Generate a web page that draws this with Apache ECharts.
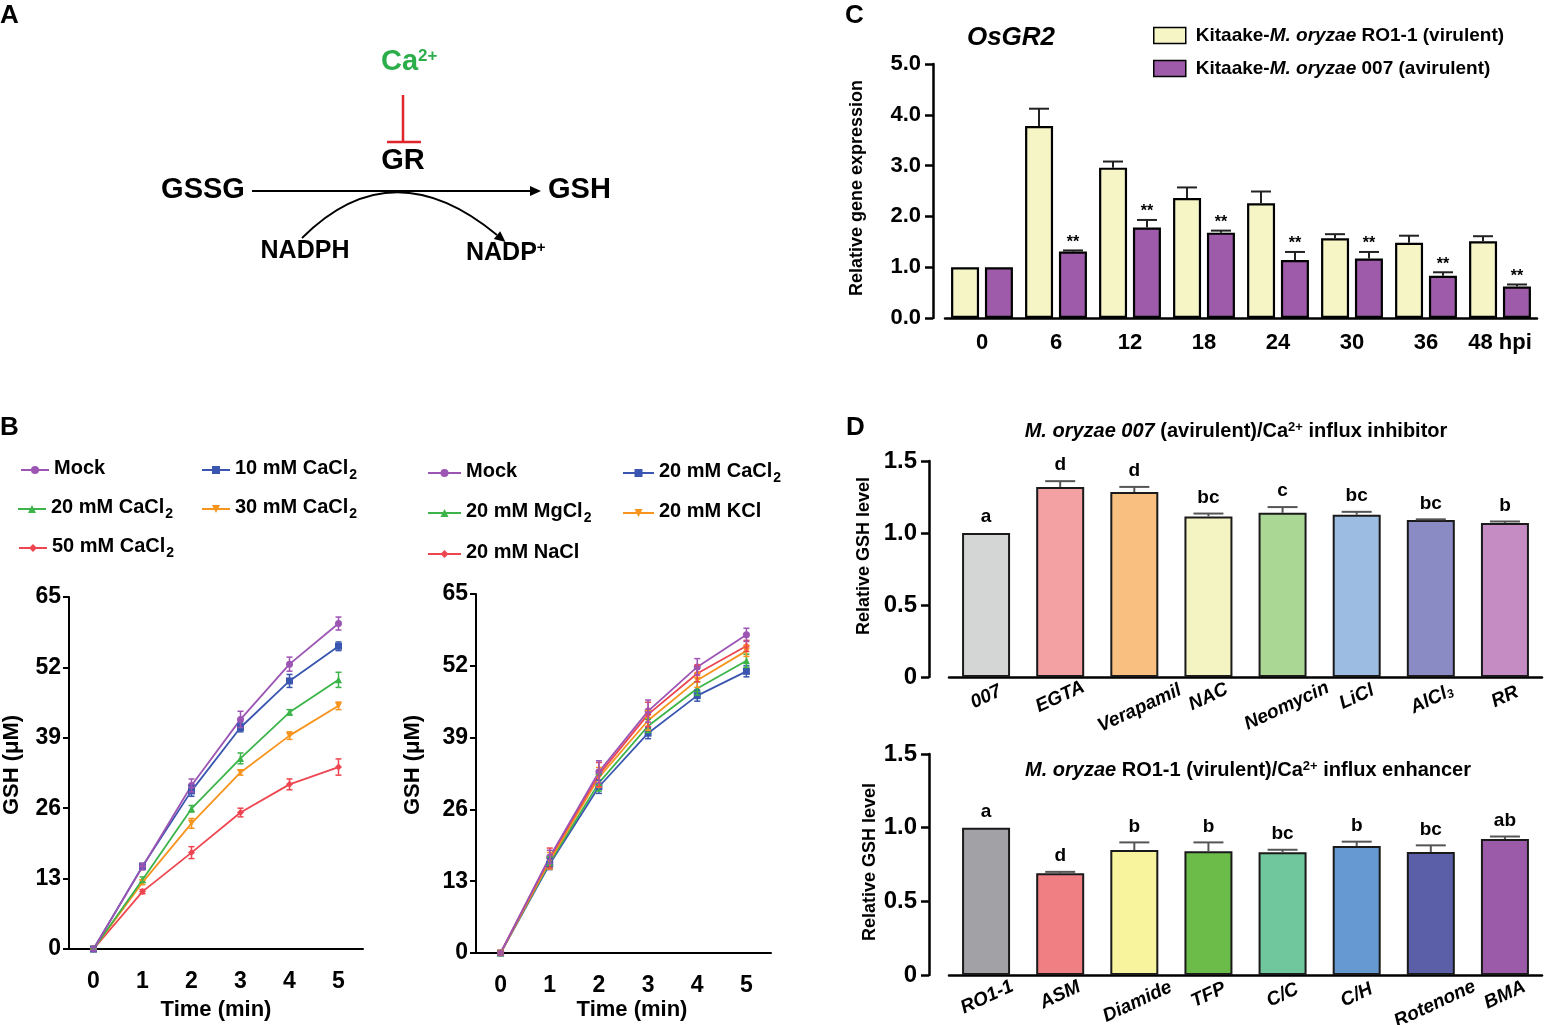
<!DOCTYPE html>
<html>
<head>
<meta charset="utf-8">
<script src="https://cdn.jsdelivr.net/npm/echarts@6/dist/echarts.min.js"></script>
<style>
html, body { margin: 0; background: #fff; }
#fig { width: 1557px; height: 1025px; }
</style>
</head>
<body>
<div id="fig"></div>
<script>
var FONT = '"Liberation Sans", Arial, sans-serif';

// ---- panel B : GSH over time ----
var bTime = ['0', '1', '2', '3', '4', '5'];
// left: CaCl2 concentrations
var caMock = [0, 15.2, 30.2, 42.4, 52.6, 60.1];
var caMockErr = [0.3, 0.6, 1.2, 1.5, 1.3, 1.2];
var ca10 = [0, 15.3, 29.2, 40.9, 49.5, 55.9];
var ca10Err = [0.3, 0.5, 1.0, 0.8, 1.2, 0.8];
var ca20 = [0, 12.8, 25.9, 35.2, 43.7, 49.7];
var ca20Err = [0.2, 0.5, 0.6, 1.0, 0.5, 1.4];
var ca30 = [0, 12.3, 23.2, 32.6, 39.4, 44.9];
var ca30Err = [0.2, 0.4, 0.9, 0.5, 0.7, 0.7];
var ca50 = [0, 10.6, 17.8, 25.2, 30.4, 33.6];
var ca50Err = [0.2, 0.4, 1.1, 0.8, 1.0, 1.5];
// right: different salts, 20 mM
var ionMock = [0, 17.4, 32.8, 43.8, 51.8, 57.6];
var ionMockErr = [0.3, 1.2, 2.0, 2.0, 1.5, 1.2];
var ionCa = [0, 16.1, 30.1, 39.8, 46.6, 51.0];
var ionCaErr = [0.3, 1.0, 1.2, 1.0, 1.0, 1.0];
var ionMg = [0, 16.4, 30.8, 41.1, 47.9, 52.9];
var ionMgErr = [0.3, 1.0, 1.5, 1.2, 1.2, 1.2];
var ionK = [0, 16.7, 31.8, 42.1, 49.4, 54.7];
var ionKErr = [0.3, 1.5, 1.8, 1.8, 1.3, 1.0];
var ionNa = [0, 17.2, 32.3, 43.2, 50.6, 55.6];
var ionNaErr = [0.3, 1.8, 2.2, 2.2, 1.5, 1.0];

// ---- panel C : OsGR2 expression ----
var cTimes = ['0', '6', '12', '18', '24', '30', '36', '48'];
var cVirulent = [1.0, 3.78, 2.96, 2.36, 2.26, 1.57, 1.48, 1.51];
var cVirulentTop = [1.0, 4.12, 3.08, 2.57, 2.49, 1.65, 1.62, 1.61];
var cAvirulent = [1.0, 1.31, 1.78, 1.68, 1.14, 1.17, 0.83, 0.62];
var cAvirulentTop = [1.0, 1.33, 1.93, 1.72, 1.30, 1.30, 0.90, 0.66];
var cStars = ['', '**', '**', '**', '**', '**', '**', '**'];

// ---- panel D : relative GSH ----
var dTopCats = ['007', 'EGTA', 'Verapamil', 'NAC', 'Neomycin', 'LiCl', 'AlCl3', 'RR'];
var dTopVals = [1.0, 1.32, 1.285, 1.115, 1.14, 1.127, 1.09, 1.07];
var dTopErr = [1.0, 1.36, 1.32, 1.135, 1.18, 1.147, 1.095, 1.08];
var dTopLetters = ['a', 'd', 'd', 'bc', 'c', 'bc', 'bc', 'b'];
var dBotCats = ['RO1-1', 'ASM', 'Diamide', 'TFP', 'C/C', 'C/H', 'Rotenone', 'BMA'];
var dBotVals = [1.0, 0.69, 0.848, 0.84, 0.833, 0.876, 0.835, 0.923];
var dBotErr = [1.0, 0.70, 0.90, 0.90, 0.85, 0.905, 0.88, 0.94];
var dBotLetters = ['a', 'd', 'b', 'b', 'bc', 'b', 'bc', 'ab'];

var dTopColors = ['#D4D5D5', '#F3A1A3', '#F8BF80', '#F4F3C2', '#ABD795', '#9CBCE2', '#8A8BC5', '#C48CC3'];
var dBotColors = ['#A2A1A5', '#F07F84', '#F8F49D', '#6BBC48', '#70C79E', '#6699D2', '#5A5FA8', '#9B5BA8'];

var PURPLE = '#9D55B4', BLUE = '#3A56B0', GREEN = '#3CB44A', ORANGE = '#F7941E', RED = '#EE4650';

function lineSeries(name, data, color, symbol, rot, g) {
  return {
    type: 'line', name: name, xAxisIndex: g, yAxisIndex: g, data: data,
    symbol: symbol, symbolRotate: rot, symbolSize: 7, color: color,
    lineStyle: { width: 1.8, color: color }, itemStyle: { color: color }, z: 3
  };
}

// symmetric error bars for the time courses
function errSeries(vals, errs, color, g) {
  return {
    type: 'custom', xAxisIndex: g, yAxisIndex: g, silent: true, z: 4,
    data: vals.map(function (v, i) { return [i, v - errs[i], v + errs[i]]; }),
    renderItem: function (p, api) {
      var lo = api.coord([api.value(0), api.value(1)]);
      var hi = api.coord([api.value(0), api.value(2)]);
      var x = lo[0], s = { stroke: color, lineWidth: 1.5 };
      return { type: 'group', children: [
        { type: 'line', shape: { x1: x, y1: lo[1], x2: x, y2: hi[1] }, style: s },
        { type: 'line', shape: { x1: x - 3, y1: lo[1], x2: x + 3, y2: lo[1] }, style: s },
        { type: 'line', shape: { x1: x - 3, y1: hi[1], x2: x + 3, y2: hi[1] }, style: s }
      ] };
    }
  };
}

// upper-only error bars on bars, with a text mark above
function capSeries(vals, tops, g, offset, capW, color, labels, gap, font) {
  return {
    type: 'custom', xAxisIndex: g, yAxisIndex: g, silent: true, z: 5,
    data: vals.map(function (v, i) { return [i, v, tops[i]]; }),
    renderItem: function (p, api) {
      var i = api.value(0);
      var lo = api.coord([i, api.value(1)]);
      var hi = api.coord([i, api.value(2)]);
      var x = lo[0] + offset, s = { stroke: color, lineWidth: 2 };
      var kids = [];
      if (hi[1] < lo[1] - 0.5) {
        kids.push({ type: 'line', shape: { x1: x, y1: lo[1], x2: x, y2: hi[1] }, style: s });
        kids.push({ type: 'line', shape: { x1: x - capW / 2, y1: hi[1], x2: x + capW / 2, y2: hi[1] }, style: s });
      }
      if (labels[i]) {
        kids.push({ type: 'text', x: x, y: hi[1] - gap, style: {
          text: labels[i], font: font, fill: '#000',
          align: 'center', verticalAlign: 'middle', textAlign: 'center', textVerticalAlign: 'middle'
        } });
      }
      return { type: 'group', children: kids };
    }
  };
}

function subLabel(name) {
  var n = name.trim();
  var m = n.match(/^(.*Cl)2$/);
  return m ? '{t|' + m[1] + '}{s|2}' : '{t|' + n + '}';
}
var legendRich = {
  t: { fontSize: 20, fontWeight: 'bold', fontFamily: FONT, color: '#000', padding: [0, 0, 4, 0] },
  s: { fontSize: 14, fontWeight: 'bold', fontFamily: FONT, color: '#000', verticalAlign: 'bottom', padding: [0, 0, 0, 1] }
};
function lineLegend(name, left, top, w) {
  return {
    data: [name], left: left, top: top, padding: 0, itemWidth: w, itemHeight: 10,
    selectedMode: false, formatter: subLabel, textStyle: { rich: legendRich }
  };
}

function txt(x, y, text, size, opt) {
  opt = opt || {};
  return {
    type: 'text', x: x, y: y, rotation: opt.rot || 0, silent: true,
    style: {
      text: text, font: (opt.italic ? 'italic ' : '') + 'bold ' + size + 'px ' + FONT,
      fill: opt.color || '#000', rich: opt.rich,
      align: opt.align || 'center', verticalAlign: 'middle',
      textAlign: opt.align || 'center', textVerticalAlign: 'middle'
    }
  };
}

var axBlack = { color: '#000', width: 2 };
function bValueAxis(g) {
  return {
    gridIndex: g, type: 'value', min: 0, max: 65, interval: 13,
    axisLine: { show: true, lineStyle: axBlack },
    axisTick: { show: true, length: 6, lineStyle: axBlack },
    splitLine: { show: false },
    axisLabel: { color: '#000', fontSize: 23, fontWeight: 'bold', fontFamily: FONT, margin: 8 }
  };
}
function bCatAxis(g) {
  return {
    gridIndex: g, type: 'category', data: bTime, boundaryGap: true,
    axisLine: { lineStyle: axBlack },
    axisTick: { alignWithLabel: true, length: 7, lineStyle: axBlack },
    axisLabel: { color: '#000', fontSize: 23, fontWeight: 'bold', fontFamily: FONT, margin: 21 }
  };
}

var ax25 = { color: '#000', width: 2.5 };
var dLabelRich = {
  i: { fontSize: 19, fontWeight: 'bold', fontStyle: 'italic', fontFamily: FONT, color: '#000' },
  s: { fontSize: 12, fontWeight: 'bold', fontStyle: 'italic', fontFamily: FONT, color: '#000', verticalAlign: 'bottom' }
};
function dCatAxis(g, cats) {
  return {
    gridIndex: g, type: 'category',
    // longer rotated labels sit a little lower, as in the original
    data: cats.map(function (c) {
      return { value: c, textStyle: {
        align: 'center', verticalAlign: 'middle',
        padding: [Math.max(0, c.length - 4) * 5, 0, 0, 0]
      } };
    }),
    axisLine: { lineStyle: ax25 },
    axisTick: { alignWithLabel: true, length: 8, lineStyle: ax25 },
    axisLabel: {
      rotate: 25, align: 'center', verticalAlign: 'middle', margin: 20, interval: 0,
      formatter: function (v) { return v === 'AlCl3' ? '{i|AlCl}{s|3}' : '{i|' + v + '}'; },
      rich: dLabelRich
    }
  };
}
function dValueAxis(g) {
  return {
    gridIndex: g, type: 'value', min: 0, max: 1.5, interval: 0.5, offset: 20,
    axisLine: { show: true, lineStyle: ax25 },
    axisTick: { show: true, length: 8, lineStyle: ax25 },
    splitLine: { show: false },
    axisLabel: {
      color: '#000', fontSize: 24, fontWeight: 'bold', fontFamily: FONT, margin: 12,
      formatter: function (v) { return v === 0 ? '0' : v.toFixed(1); }
    }
  };
}

var cLegendRich = {
  n: { fontSize: 19, fontWeight: 'bold', fontFamily: FONT, color: '#000' },
  i: { fontSize: 19, fontWeight: 'bold', fontStyle: 'italic', fontFamily: FONT, color: '#000' }
};
var cLegendText = {
  'RO1-1': '{n|Kitaake-}{i|M. oryzae}{n| RO1-1 (virulent)}',
  '007': '{n|Kitaake-}{i|M. oryzae}{n| 007 (avirulent)}'
};

var titleRich = {
  n: { fontSize: 20, fontWeight: 'bold', fontFamily: FONT, fill: '#000' },
  i: { fontSize: 20, fontWeight: 'bold', fontStyle: 'italic', fontFamily: FONT, fill: '#000' },
  sup: { fontSize: 13, fontWeight: 'bold', fontFamily: FONT, fill: '#000', verticalAlign: 'top' }
};
var bigRich = {
  a: { fontSize: 29, fontWeight: 'bold', fontFamily: FONT, fill: '#2BAE4A' },
  b: { fontSize: 17, fontWeight: 'bold', fontFamily: FONT, fill: '#2BAE4A', verticalAlign: 'top' },
  c: { fontSize: 25, fontWeight: 'bold', fontFamily: FONT, fill: '#000' },
  d: { fontSize: 15, fontWeight: 'bold', fontFamily: FONT, fill: '#000', verticalAlign: 'top' }
};

var black = { stroke: '#000', lineWidth: 1.8, fill: null };
var redInh = { stroke: '#E0262B', lineWidth: 2.5 };

function grid(l, t, w, h) {
  return { left: l, top: t, width: w, height: h, outerBoundsMode: 'none' };
}

var option = {
  animation: false,
  backgroundColor: '#fff',
  grid: [
    grid(69, 597, 294, 352),
    grid(476, 594, 295, 359),
    grid(945, 64, 592, 254),
    grid(949, 461, 593, 216),
    grid(949, 754, 593, 221)
  ],
  xAxis: [
    bCatAxis(0),
    bCatAxis(1),
    {
      gridIndex: 2, type: 'category', data: cTimes,
      axisLine: { lineStyle: ax25 },
      axisTick: { alignWithLabel: true, length: 8, lineStyle: ax25 },
      axisLabel: {
        color: '#000', fontSize: 22, fontWeight: 'bold', fontFamily: FONT, margin: 14, interval: 0,
        formatter: function (v, i) { return i === cTimes.length - 1 ? v + ' hpi' : v; }
      }
    },
    dCatAxis(3, dTopCats),
    dCatAxis(4, dBotCats)
  ],
  yAxis: [
    bValueAxis(0),
    bValueAxis(1),
    {
      gridIndex: 2, type: 'value', min: 0, max: 5, interval: 1, offset: 12,
      axisLine: { show: true, lineStyle: ax25 },
      axisTick: { show: true, length: 8, lineStyle: ax25 },
      splitLine: { show: false },
      axisLabel: {
        color: '#000', fontSize: 22, fontWeight: 'bold', fontFamily: FONT, margin: 12,
        formatter: function (v) { return v.toFixed(1); }
      }
    },
    dValueAxis(3),
    dValueAxis(4)
  ],
  legend: [
    lineLegend('Mock', 20, 458, 28),
    lineLegend('10 mM CaCl2', 201, 458, 28),
    lineLegend('20 mM CaCl2', 17, 497, 28),
    lineLegend('30 mM CaCl2', 201, 497, 28),
    lineLegend('50 mM CaCl2', 18, 536, 28),
    lineLegend('Mock ', 427, 461, 33),
    lineLegend('20 mM CaCl2 ', 622, 461, 31),
    lineLegend('20 mM MgCl2', 427, 501, 33),
    lineLegend('20 mM KCl', 622, 501, 31),
    lineLegend('20 mM NaCl', 427, 542, 33),
    {
      data: ['RO1-1', '007'], left: 1153, top: 26, orient: 'vertical', padding: 0,
      itemGap: 14, itemWidth: 32, itemHeight: 16, icon: 'rect', selectedMode: false,
      itemStyle: { borderColor: '#000', borderWidth: 1.5 },
      formatter: function (n) { return cLegendText[n]; },
      textStyle: { rich: cLegendRich, padding: [0, 0, 0, 5] }
    }
  ],
  series: [
    lineSeries('50 mM CaCl2', ca50, RED, 'diamond', 0, 0),
    lineSeries('30 mM CaCl2', ca30, ORANGE, 'triangle', 180, 0),
    lineSeries('20 mM CaCl2', ca20, GREEN, 'triangle', 0, 0),
    lineSeries('10 mM CaCl2', ca10, BLUE, 'rect', 0, 0),
    lineSeries('Mock', caMock, PURPLE, 'circle', 0, 0),
    errSeries(ca50, ca50Err, RED, 0),
    errSeries(ca30, ca30Err, ORANGE, 0),
    errSeries(ca20, ca20Err, GREEN, 0),
    errSeries(ca10, ca10Err, BLUE, 0),
    errSeries(caMock, caMockErr, PURPLE, 0),

    lineSeries('20 mM CaCl2 ', ionCa, BLUE, 'rect', 0, 1),
    lineSeries('20 mM MgCl2', ionMg, GREEN, 'triangle', 0, 1),
    lineSeries('20 mM KCl', ionK, ORANGE, 'triangle', 180, 1),
    lineSeries('20 mM NaCl', ionNa, RED, 'diamond', 0, 1),
    lineSeries('Mock ', ionMock, PURPLE, 'circle', 0, 1),
    errSeries(ionCa, ionCaErr, BLUE, 1),
    errSeries(ionMg, ionMgErr, GREEN, 1),
    errSeries(ionK, ionKErr, ORANGE, 1),
    errSeries(ionNa, ionNaErr, RED, 1),
    errSeries(ionMock, ionMockErr, PURPLE, 1),

    {
      type: 'bar', name: 'RO1-1', xAxisIndex: 2, yAxisIndex: 2, data: cVirulent,
      barWidth: 28, barGap: '21%',
      itemStyle: { color: '#F6F5C6', borderColor: '#000', borderWidth: 2.2 }
    },
    {
      type: 'bar', name: '007', xAxisIndex: 2, yAxisIndex: 2, data: cAvirulent,
      barWidth: 28, barGap: '21%',
      itemStyle: { color: '#9E5BAA', borderColor: '#000', borderWidth: 2.2 }
    },
    capSeries(cVirulent, cVirulentTop, 2, -17, 20, '#222', [], 0, ''),
    capSeries(cAvirulent, cAvirulentTop, 2, 17, 20, '#222', cStars, 8, 'bold 16px ' + FONT),

    {
      type: 'bar', xAxisIndex: 3, yAxisIndex: 3, data: dTopVals, barWidth: 48,
      itemStyle: { color: function (p) { return dTopColors[p.dataIndex]; }, borderColor: '#1a1a1a', borderWidth: 2 }
    },
    capSeries(dTopVals, dTopErr, 3, 0, 30, '#555', dTopLetters, 16, 'bold 19px ' + FONT),
    {
      type: 'bar', xAxisIndex: 4, yAxisIndex: 4, data: dBotVals, barWidth: 48,
      itemStyle: { color: function (p) { return dBotColors[p.dataIndex]; }, borderColor: '#1a1a1a', borderWidth: 2 }
    },
    capSeries(dBotVals, dBotErr, 4, 0, 30, '#555', dBotLetters, 16, 'bold 19px ' + FONT)
  ],
  graphic: [
    // panel letters
    txt(0, 16, 'A', 26, { align: 'left' }),
    txt(0, 428, 'B', 26, { align: 'left' }),
    txt(845, 16, 'C', 26, { align: 'left' }),
    txt(846, 428, 'D', 26, { align: 'left' }),

    // panel A scheme
    txt(381, 62, '{a|Ca}{b|2+}', 29, { align: 'left', rich: bigRich }),
    { type: 'line', silent: true, shape: { x1: 403, y1: 95, x2: 403, y2: 142 }, style: redInh },
    { type: 'line', silent: true, shape: { x1: 387, y1: 142, x2: 421, y2: 142 }, style: redInh },
    txt(403, 161, 'GR', 29),
    txt(203, 190, 'GSSG', 29),
    txt(548, 190, 'GSH', 29, { align: 'left' }),
    { type: 'line', silent: true, shape: { x1: 252, y1: 191, x2: 532, y2: 191 }, style: black },
    { type: 'polygon', silent: true, shape: { points: [[541, 191], [530, 186], [530, 196]] }, style: { fill: '#000' } },
    { type: 'bezierCurve', silent: true, shape: { x1: 302, y1: 238, cpx1: 392, cpy1: 148, x2: 497, y2: 235 }, style: black },
    { type: 'polygon', silent: true, shape: { points: [[505.5, 242], [493.8, 238.9], [500.2, 231.2]] }, style: { fill: '#000' } },
    txt(305, 251, 'NADPH', 25),
    txt(466, 253, '{c|NADP}{d|+}', 25, { align: 'left', rich: bigRich }),

    // panel B axis names
    txt(12, 765, 'GSH (μM)', 22, { rot: Math.PI / 2 }),
    txt(413, 765, 'GSH (μM)', 22, { rot: Math.PI / 2 }),
    txt(216, 1010, 'Time (min)', 22),
    txt(632, 1010, 'Time (min)', 22),

    // panel C
    txt(1011, 38, 'OsGR2', 26, { italic: true }),
    txt(857, 188, 'Relative gene expression', 18, { rot: Math.PI / 2 }),

    // panel D
    txt(1236, 431, '{i|M. oryzae 007}{n| (avirulent)/Ca}{sup|2+}{n| influx inhibitor}', 20, { rich: titleRich }),
    txt(864, 556, 'Relative GSH level', 18, { rot: Math.PI / 2 }),
    txt(1248, 770, '{i|M. oryzae}{n| RO1-1 (virulent)/Ca}{sup|2+}{n| influx enhancer}', 20, { rich: titleRich }),
    txt(870, 862, 'Relative GSH level', 18, { rot: Math.PI / 2 })
  ]
};

var chart = echarts.init(document.getElementById('fig'));
chart.setOption(option);
</script>
</body>
</html>
